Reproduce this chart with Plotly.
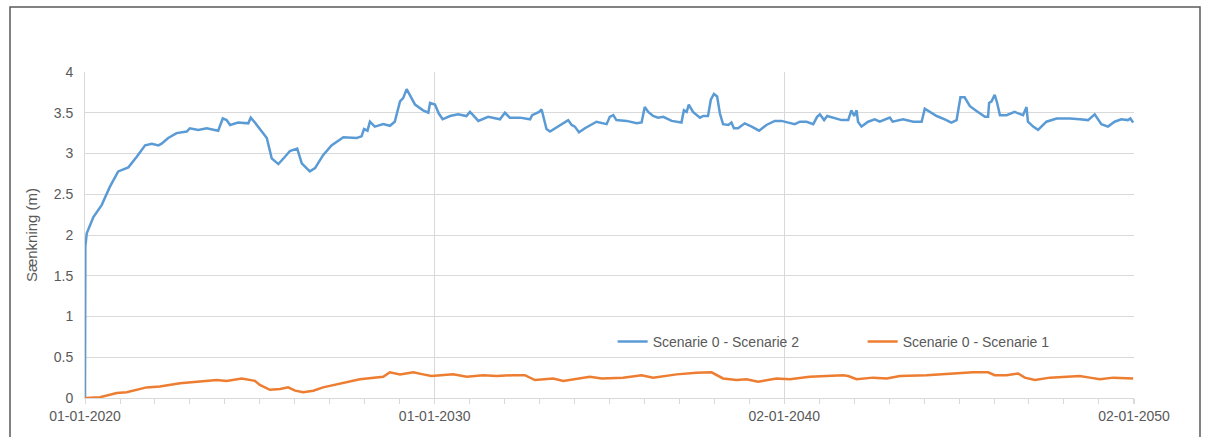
import pandas as pd
import plotly.graph_objects as go

# Decimal years since 01-01-2020 and values (m)
s2_years = [0.00, 0.01, 0.05, 0.24, 0.48, 0.71, 0.95, 1.24, 1.48, 1.72, 1.91, 2.10, 2.19, 2.38, 2.62,
            2.91, 3.00, 3.24, 3.48, 3.81, 3.94, 4.05, 4.15, 4.38, 4.67, 4.74, 4.86, 5.05, 5.20, 5.34,
            5.53, 5.72, 5.86, 6.07, 6.20, 6.43, 6.58, 6.81, 7.05, 7.39, 7.77, 7.91, 7.98, 8.08, 8.15,
            8.29, 8.53, 8.72, 8.86, 9.01, 9.10, 9.20, 9.29, 9.44, 9.67, 9.82, 9.87, 10.01, 10.12, 10.23,
            10.44, 10.67, 10.91, 11.01, 11.10, 11.25, 11.53, 11.87, 12.01, 12.15, 12.44, 12.73, 12.79,
            12.92, 12.99, 13.06, 13.11, 13.20, 13.30, 13.58, 13.82, 13.92, 14.01, 14.13, 14.30, 14.63,
            14.92, 15.01, 15.11, 15.20, 15.49, 15.78, 15.92, 16.01, 16.11, 16.25, 16.39, 16.54, 16.78,
            17.06, 17.13, 17.21, 17.27, 17.39, 17.59, 17.68, 17.82, 17.90, 17.99, 18.08, 18.16, 18.25,
            18.40, 18.49, 18.56, 18.68, 18.87, 19.07, 19.28, 19.49, 19.73, 19.92, 20.02, 20.16, 20.30,
            20.45, 20.64, 20.83, 20.94, 21.02, 21.14, 21.23, 21.45, 21.64, 21.83, 21.92, 22.00, 22.07,
            22.11, 22.21, 22.40, 22.59, 22.73, 23.02, 23.10, 23.40, 23.69, 23.93, 24.02, 24.16, 24.36,
            24.59, 24.78, 24.93, 25.04, 25.16, 25.31, 25.54, 25.74, 25.83, 25.86, 25.93, 26.02, 26.09,
            26.17, 26.36, 26.59, 26.83, 26.93, 26.97, 27.12, 27.26, 27.50, 27.79, 28.17, 28.45, 28.69,
            28.88, 29.07, 29.26, 29.45, 29.64, 29.83, 29.90, 29.98]
s2_values = [0.00, 1.86, 2.02, 2.22, 2.37, 2.59, 2.78, 2.83, 2.96, 3.10, 3.12, 3.10, 3.12, 3.19, 3.25,
             3.27, 3.31, 3.29, 3.31, 3.28, 3.43, 3.41, 3.35, 3.38, 3.37, 3.44, 3.38, 3.27, 3.19, 2.94,
             2.87, 2.96, 3.03, 3.06, 2.88, 2.78, 2.82, 2.98, 3.10, 3.20, 3.19, 3.21, 3.30, 3.28, 3.39,
             3.33, 3.36, 3.34, 3.39, 3.64, 3.68, 3.79, 3.72, 3.60, 3.53, 3.50, 3.62, 3.60, 3.49, 3.42,
             3.46, 3.48, 3.46, 3.51, 3.47, 3.40, 3.45, 3.42, 3.50, 3.44, 3.44, 3.42, 3.47,
             3.49, 3.51, 3.54, 3.45, 3.30, 3.27, 3.35, 3.41, 3.35, 3.33, 3.26, 3.31, 3.39,
             3.36, 3.45, 3.47, 3.41, 3.40, 3.37, 3.38, 3.57, 3.51, 3.46, 3.44, 3.45, 3.40,
             3.38, 3.53, 3.51, 3.60, 3.51, 3.44, 3.46, 3.46, 3.66, 3.73, 3.70, 3.49, 3.36,
             3.35, 3.38, 3.31, 3.31, 3.37, 3.33, 3.28, 3.35, 3.40, 3.40, 3.39, 3.37, 3.36,
             3.39, 3.39, 3.36, 3.45, 3.48, 3.41, 3.46, 3.43, 3.41, 3.41, 3.53, 3.46, 3.53,
             3.39, 3.33, 3.39, 3.42, 3.39, 3.44, 3.39, 3.42, 3.39, 3.39, 3.55, 3.51, 3.46,
             3.42, 3.38, 3.41, 3.69, 3.69, 3.58, 3.51, 3.45, 3.45, 3.62, 3.64, 3.72, 3.62,
             3.47, 3.47, 3.51, 3.47, 3.57, 3.39, 3.33, 3.29, 3.39, 3.43, 3.43, 3.42, 3.41,
             3.48, 3.36, 3.33, 3.39, 3.42, 3.41, 3.43, 3.38]

s1_years = [0.00, 0.43, 0.91, 1.19, 1.76, 2.14, 2.72, 3.19, 3.77, 4.05, 4.48, 4.86, 5.00, 5.29, 5.58,
            5.81, 6.01, 6.24, 6.53, 6.81, 7.29, 7.86, 8.53, 8.72, 9.01, 9.39, 9.67, 9.91, 10.53, 10.92,
            11.39, 11.77, 12.25, 12.58, 12.87, 13.39, 13.68, 14.15, 14.44, 14.78, 15.39, 15.92, 16.25,
            16.92, 17.49, 17.92, 18.25, 18.64, 18.92, 19.25, 19.78, 20.16, 20.73, 21.68, 21.83, 22.07,
            22.54, 22.93, 23.31, 24.07, 24.93, 25.40, 25.83, 26.02, 26.36, 26.69, 26.88, 27.17, 27.60,
            28.45, 28.74, 29.03, 29.41, 29.81, 29.98]
s1_values = [0.00, 0.01, 0.06, 0.07, 0.13, 0.14, 0.18, 0.20, 0.22, 0.21, 0.24, 0.21, 0.16, 0.10, 0.11,
             0.13, 0.09, 0.07, 0.09, 0.13, 0.18, 0.23, 0.26, 0.315, 0.29, 0.315, 0.29, 0.27, 0.29, 0.26,
             0.28, 0.27, 0.28, 0.28, 0.22, 0.24, 0.21, 0.24, 0.26, 0.24, 0.25, 0.28, 0.25,
             0.29, 0.31, 0.315, 0.24, 0.22, 0.23, 0.20, 0.24, 0.23, 0.26, 0.28, 0.27, 0.23,
             0.25, 0.24, 0.27, 0.28, 0.30, 0.315, 0.315, 0.28, 0.28, 0.30, 0.25, 0.22, 0.25,
             0.27, 0.25, 0.23, 0.25, 0.24, 0.24]

tick_dates = ["2020-01-01", "2030-01-01", "2040-01-02", "2050-01-02"]
tick_labels = ["01-01-2020", "01-01-2030", "02-01-2040", "02-01-2050"]
y_ticks = [0, 0.5, 1, 1.5, 2, 2.5, 3, 3.5, 4]
y_labels = ["0", "0.5", "1", "1.5", "2", "2.5", "3", "3.5", "4"]

start = pd.Timestamp("2020-01-01")
def to_dates(years):
    return [start + pd.to_timedelta(y * 365.25, unit="D") for y in years]

BLUE = "#5B9BD5"
ORANGE = "#ED7D31"
TXT = "#595959"
GRID = "#D9D9D9"

fig = go.Figure()
fig.add_trace(go.Scatter(x=to_dates(s2_years), y=s2_values, mode="lines",
                         name="Scenarie 0 - Scenarie 2", line=dict(color=BLUE, width=2.5)))
fig.add_trace(go.Scatter(x=to_dates(s1_years), y=s1_values, mode="lines",
                         name="Scenarie 0 - Scenarie 1", line=dict(color=ORANGE, width=2.5)))

fig.update_layout(
    width=1210, height=437,
    margin=dict(l=85, r=76, t=72, b=39),
    paper_bgcolor="white", plot_bgcolor="white",
    font=dict(family="Liberation Sans, Arial, sans-serif", size=14, color=TXT),
    legend=dict(orientation="h", x=0.503, y=0.172, xanchor="left", yanchor="middle",
                bgcolor="rgba(0,0,0,0)", font=dict(size=14, color=TXT),
                entrywidth=205, entrywidthmode="pixels"),
    shapes=[dict(type="rect", xref="paper", yref="paper",
                 x0=(10 - 85) / 1049, x1=(1200 - 85) / 1049,
                 y0=(398 - 445) / 326, y1=(398 - 7) / 326,
                 line=dict(color="#5A5A5A", width=1.5), layer="below")],
)
fig.update_xaxes(
    type="date", range=[tick_dates[0], tick_dates[-1]],
    tickmode="array", tickvals=tick_dates, ticktext=tick_labels,
    showgrid=True, gridcolor=GRID, gridwidth=1,
    showline=True, linecolor=GRID, linewidth=1,
    ticks="outside", ticklen=5, tickcolor=GRID,
    minor=dict(ticks="outside", ticklen=5, tickcolor=GRID, dtick="M12",
               tick0="2020-01-01", showgrid=False),
    tickfont=dict(size=14, color=TXT), zeroline=False,
)
fig.update_yaxes(
    range=[0, 4], tickmode="array", tickvals=y_ticks, ticktext=y_labels,
    showgrid=True, gridcolor=GRID, gridwidth=1,
    showline=True, linecolor=GRID, linewidth=1, zeroline=False,
    ticks="", ticklabelstandoff=8,
    title=dict(text="Sænkning (m)", font=dict(size=15, color=TXT), standoff=12),
    tickfont=dict(size=14, color=TXT),
)

fig.write_html("out.html", config={"displayModeBar": False},
               post_script="document.body.style.margin='0';")
